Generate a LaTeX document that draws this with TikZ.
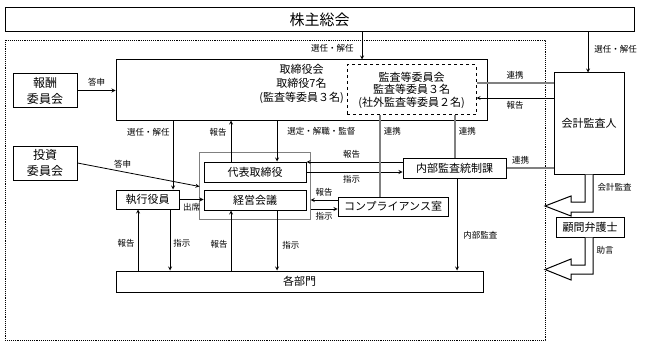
\documentclass[tikz,border=0pt]{standalone}
\usepackage{fontspec}
\setmainfont{Noto Sans CJK JP}
\usetikzlibrary{arrows,positioning,fit}

\begin{document}
\begin{tikzpicture}[
    x=1pt, y=-1pt,
    box/.style={rectangle, draw, line width=1pt, fill=white, align=center,
                inner sep=0pt, font=\fontsize{11}{13}\selectfont},
    committee/.style={box, minimum width=64pt, minimum height=34pt,
                      font=\fontsize{12}{16}\selectfont},
    group/.style={rectangle, draw=gray, thin, inner xsep=4pt, inner ysep=9pt},
    arrow/.style={->, >=stealth, thick},
    link/.style={draw=gray, line width=1.6pt},
    hollow/.style={draw, line width=1pt, fill=white, line join=miter},
    lbl/.style={font=\fontsize{8.5}{10}\selectfont, inner sep=0pt}
]

\useasboundingbox (0,0) rectangle (647,350);

%% ── Frame and shareholders' meeting ──────────────────────────────
\draw[densely dotted, line width=0.9pt] (5,40) rectangle (545,340);
\node[box, minimum width=629pt, minimum height=24pt,
      font=\fontsize{15}{17}\selectfont] (sokai) at (319.5,20) {株主総会};

%% ── Board and audit committee ────────────────────────────────────
\node[box, minimum width=371pt, minimum height=60pt,
      label={[align=center, font=\fontsize{11}{14}\selectfont, yshift=6pt]center:{取締役会\\取締役7名\\(監査等委員３名)}}]
    (board) at (301.5,90) {};
\node[box, dashed, minimum width=129pt, minimum height=50pt,
      font=\fontsize{11}{12.5}\selectfont]
    (kansa) at (411.5,90) {監査等委員会\\監査等委員３名\\(社外監査等委員２名)};

%% ── Committees ───────────────────────────────────────────────────
\node[committee] (hoshu) at (45,90.5) {報酬\\委員会};
\node[committee] (toshi) at (45,163)  {投資\\委員会};

%% ── Execution side ───────────────────────────────────────────────
\node[box, minimum width=102pt, minimum height=20pt] (daihyo) at (255,172) {代表取締役};
\node[box, minimum width=102pt, minimum height=20pt, below=7pt of daihyo] (keiei) {経営会議};
\node[group, fit=(daihyo)(keiei)] (grp) {};
\node[box, minimum width=63pt,  minimum height=19pt] (shikko) at (147.5,199.5) {執行役員};
\node[box, minimum width=103pt, minimum height=20pt] (naibu)  at (454.5,168)   {内部監査統制課};
\node[box, minimum width=110pt, minimum height=19pt] (comp)   at (393,206.5)   {コンプライアンス室};
\node[box, minimum width=367pt, minimum height=21pt] (kakubu) at (299.5,281.5) {各部門};

%% ── Outside parties ──────────────────────────────────────────────
\node[box, minimum width=70pt, minimum height=101pt] (kaikei) at (589,123.5) {会計監査人};
\node[box, minimum width=68pt, minimum height=20pt]  (komon)  at (590,227)   {顧問弁護士};

%% ── Arrows: from the top ─────────────────────────────────────────
\draw[arrow] (sokai.south -| 362,0) -- node[lbl, pos=0.6, left=8pt] {選任・解任} (board.north -| 362,0);
\draw[arrow] (sokai.south -| 588,0) -- node[lbl, pos=0.41, right=6pt] {選任・解任} (kaikei.north -| 588,0);

%% ── Arrows: board and executives ─────────────────────────────────
\draw[arrow] (board.south -| 173,0) -- node[lbl, pos=0.17, left=3pt] {選任・解任} (shikko.north -| 173,0);
\draw[arrow] (daihyo.north -| 231,0) -- node[lbl, pos=0.71, left=4pt] {報告} (board.south -| 231,0);
\draw[arrow] (board.south -| 277,0) -- node[lbl, pos=0.26, right=10pt] {選定・解職・監督} (daihyo.north -| 277,0);

%% ── Arrows: committees ───────────────────────────────────────────
\draw[arrow] (hoshu.east) -- node[lbl, above=4pt] {答申} (board.west |- hoshu.east);
\draw[arrow] (toshi.east) -- node[lbl, pos=0.37, above=3pt] {答申} ([shift={(-4pt,3pt)}]keiei.north west);
\draw[arrow] (shikko.east) -- node[lbl, below=3pt] {出席} (keiei.west |- shikko.east);

%% ── Arrows: internal audit and compliance ────────────────────────
\draw[arrow] ([yshift=6pt]naibu.west) -- node[lbl, pos=0.53, above=3pt] {報告} ([yshift=6pt]naibu.west -| daihyo.east);
\draw[arrow] (daihyo.east) -- node[lbl, pos=0.47, below=3pt] {指示} (naibu.west |- daihyo.east);
\draw[arrow] ([yshift=6.5pt]comp.west) -- node[lbl, above=3pt] {報告} ([yshift=6.5pt]comp.west -| grp.east);
\draw[arrow] ([yshift=-2.5pt]comp.west -| grp.east) -- node[lbl, below=3pt] {指示} ([yshift=-2.5pt]comp.west);

%% ── Arrows: departments ──────────────────────────────────────────
\draw[arrow] (kakubu.north -| 138,0) -- node[lbl, pos=0.45, left=3pt]  {報告} (shikko.south -| 138,0);
\draw[arrow] (shikko.south -| 170,0) -- node[lbl, pos=0.55, right=3pt] {指示} (kakubu.north -| 170,0);
\draw[arrow] (kakubu.north -| 231,0) -- node[lbl, pos=0.44, left=3pt]  {報告} (keiei.south -| 231,0);
\draw[arrow] (keiei.south -| 277,0)  -- node[lbl, pos=0.58, right=5pt] {指示} (kakubu.north -| 277,0);
\draw[arrow] (naibu.south -| 457,0)  -- node[lbl, pos=0.62, right=6pt] {内部監査} (kakubu.north -| 457,0);

%% ── Links (連携) ─────────────────────────────────────────────────
\draw[link] (kansa.south -| 380,0) -- node[lbl, pos=0.2, right=3pt]  {連携} (comp.north -| 380,0);
\draw[link] (kansa.south -| 455,0) -- node[lbl, pos=0.37, right=3pt] {連携} (naibu.north -| 455,0);
\draw[link] (kaikei.west |- 0,83) -- node[lbl, above=3pt] {連携} (kansa.east |- 0,83);
\draw[arrow] (kaikei.west |- 0,98) -- node[lbl, below=3pt] {報告} (kansa.east |- 0,98);
\draw[link] (naibu.east) -- node[lbl, pos=0.3, above=3pt] {連携} (kaikei.west |- naibu.east);

%% ── Hollow arrows into the company ───────────────────────────────
\draw[hollow] (kaikei.south -| 585,0) |- (571,202) -- (571,196) -- (545,206)
    -- (571,216) -- (571,212) -| (kaikei.south -| 593,0);
\node[lbl] (kaikeilbl) at (614.5,187) {会計監査};
\draw[hollow] (komon.south -| 585,0) |- (571,265) -- (571,259) -- (545,269.5)
    -- (571,280) -- (571,274) -| (komon.south -| 593,0);
\node[lbl] (jogenlbl) at (605,250) {助言};

\end{tikzpicture}
\end{document}
